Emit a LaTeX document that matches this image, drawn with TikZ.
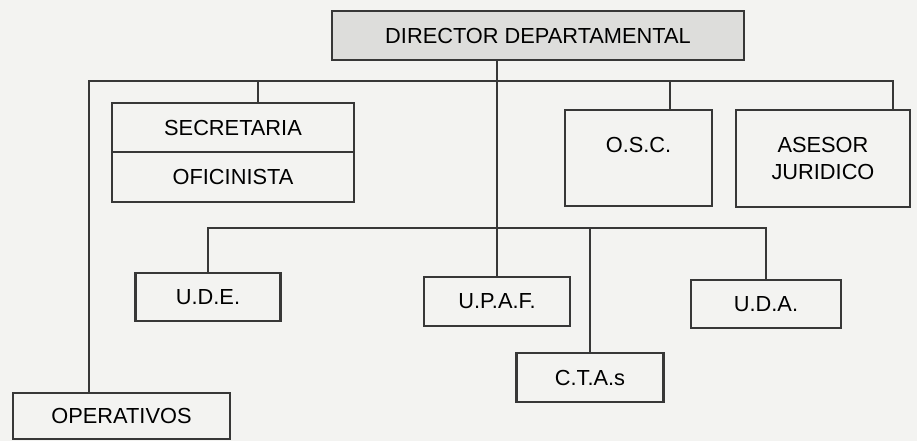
\documentclass[tikz,border=0pt]{standalone}
\usepackage{fontspec}
\setmainfont{Liberation Sans}
\usepackage{tikz}

\definecolor{papel}{RGB}{243,243,241}
\definecolor{trazo}{RGB}{55,55,55}
\definecolor{gris}{RGB}{221,221,219}

\begin{document}
\begin{tikzpicture}[
    caja/.style={draw=trazo, line width=0.6pt, rectangle, inner sep=0pt, outer sep=0pt,
      align=center, font=\fontsize{6.2}{7.7}\selectfont},
    linea/.style={draw=trazo, line width=0.6pt}
  ]
    % fondo
    \fill[papel] (0,0) rectangle (9.17,4.41);
    \useasboundingbox (0,0) rectangle (9.17,4.41);

    % cajas
    \node[caja, fill=gris, minimum width=4.12cm, minimum height=0.49cm] (dir) at (5.38,4.055) {DIRECTOR DEPARTAMENTAL};
    \node[caja, minimum width=2.42cm, minimum height=0.49cm] (sec) at (2.33,3.135) {SECRETARIA};
    \node[caja, minimum width=2.42cm, minimum height=0.50cm, anchor=north] (ofi) at (sec.south) {OFICINISTA};
    \node[caja, minimum width=1.47cm, minimum height=0.96cm] (osc) at (6.385,2.83) {O.S.C.\\\mbox{}};
    \node[caja, minimum width=1.74cm, minimum height=0.97cm] (ase) at (8.23,2.825) {ASESOR\\JURIDICO};
    \node[caja, minimum width=1.45cm, minimum height=0.48cm] (ude) at (2.08,1.44) {U.D.E.};
    \node[caja, minimum width=1.46cm, minimum height=0.49cm] (upaf) at (4.97,1.395) {U.P.A.F.};
    \node[caja, minimum width=1.47cm, minimum height=0.49cm] (ctas) at (5.90,0.635) {C.T.A.s};
    \node[caja, minimum width=1.50cm, minimum height=0.48cm] (uda) at (7.66,1.37) {U.D.A.};
    \node[caja, minimum width=2.17cm, minimum height=0.46cm] (oper) at (1.215,0.25) {OPERATIVOS};

    % barra superior
    \coordinate (izq) at (0.89,3.60);
    \coordinate (der) at (8.93,3.60);
    \draw[linea] (oper.north -| izq) -- (izq) -- (der) -- (der |- ase.north);
    \draw[linea] (2.58,3.60) -- (2.58,3.60 |- sec.north);
    \draw[linea] (6.70,3.60) -- (6.70,3.60 |- osc.north);

    % linea central
    \draw[linea] (dir.south -| upaf.north) -- (upaf.north);

    % barra inferior
    \draw[linea] (ude.north) -- (ude.north |- 0,2.13) -- (uda.north |- 0,2.13) -- (uda.north);
    \draw[linea] (ctas.north |- 0,2.13) -- (ctas.north);
\end{tikzpicture}
\end{document}
